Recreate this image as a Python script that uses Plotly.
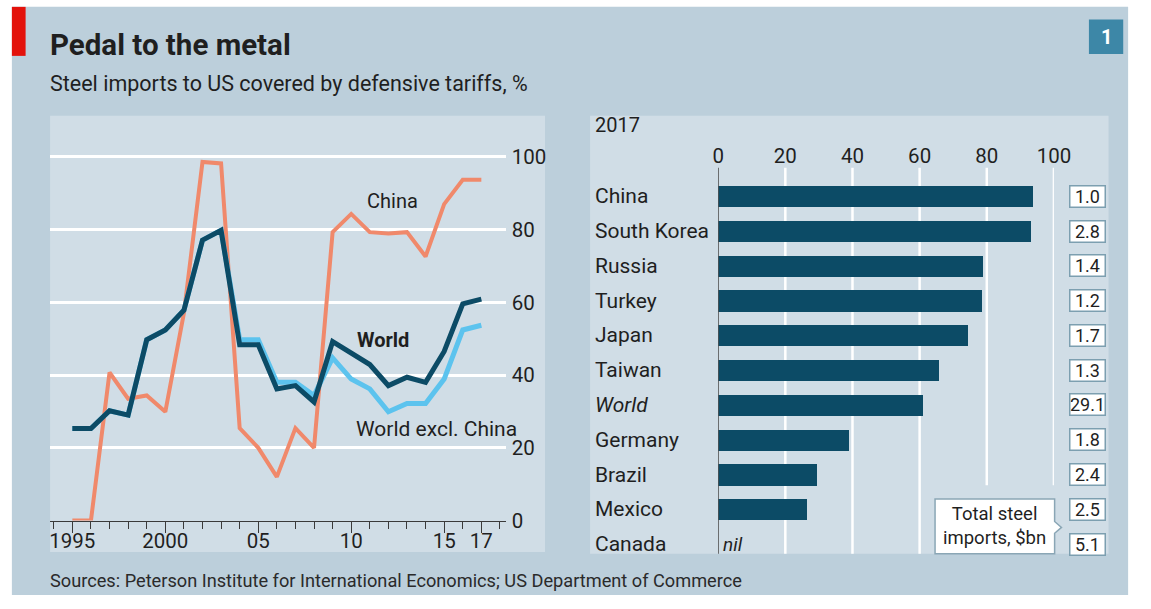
import plotly.graph_objects as go

W, H = 1151, 609
def px(x):
    return x / W
def py(y):
    return 1 - y / H

# ---------------- data ----------------
years = list(range(1995, 2018))
china = [0, 0, 40.7, 33.5, 34.4, 29.9, 57, 98.6, 98.2, 25.4, 20, 12, 25.4, 20,
         79.3, 84.3, 79.3, 78.9, 79.3, 72.6, 87, 93.7, 93.7]
world = [25.3, 25.3, 30.2, 29, 49.7, 52.4, 57.8, 77.1, 79.8, 48.3, 48.3, 36.2, 37.1,
         32.6, 49.2, 46.1, 42.9, 37.1, 39.4, 38, 46.5, 59.6, 60.9]
world_ex_china = [25.3, 25.3, 30.2, 29, 49.7, 52.4, 57.8, 77.1, 79.8, 49.7, 49.7, 38, 38,
                  34.4, 44.7, 38.9, 36.2, 29.9, 32.2, 32.2, 38.9, 52.4, 53.7]
year_ticks = [1995, 2000, 2005, 2010, 2015, 2017]
year_labels = ["1995", "2000", "05", "10", "15", "17"]

countries = ["China", "South Korea", "Russia", "Turkey", "Japan", "Taiwan", "World",
             "Germany", "Brazil", "Mexico", "Canada"]
share_2017 = [93.8, 93.2, 79.0, 78.5, 74.4, 65.8, 61.0, 38.9, 29.4, 26.4, None]
imports_bn = ["1.0", "2.8", "1.4", "1.2", "1.7", "1.3", "29.1", "1.8", "2.4", "2.5", "5.1"]
bar_ticks = [0, 20, 40, 60, 80, 100]

# ---------------- style ----------------
FONT = "Roboto"
TXT = "#1f1f1f"
OUTER = "#bccfdb"
PANEL = "#d0dde6"
ORANGE = "#f0896b"
NAVY = "#0c4b66"
LIGHTBLUE = "#5cc3ee"

fig = go.Figure()

fig.add_trace(go.Scatter(x=years, y=china, mode="lines",
                         line=dict(color=ORANGE, width=4), xaxis="x", yaxis="y",
                         hoverinfo="skip"))
fig.add_trace(go.Scatter(x=years, y=world_ex_china, mode="lines",
                         line=dict(color=LIGHTBLUE, width=5), xaxis="x", yaxis="y",
                         hoverinfo="skip"))
fig.add_trace(go.Scatter(x=years, y=world, mode="lines",
                         line=dict(color=NAVY, width=5), xaxis="x", yaxis="y",
                         hoverinfo="skip"))

fig.add_trace(go.Bar(y=countries, x=share_2017, orientation="h", width=0.61,
                     marker=dict(color=NAVY, line=dict(width=0)),
                     xaxis="x2", yaxis="y2", hoverinfo="skip"))

shapes = []
shapes.append(dict(type="rect", xref="paper", yref="paper", x0=px(6), x1=px(1145),
                   y0=py(607), y1=py(7), fillcolor=OUTER, line=dict(width=0), layer="below"))
shapes.append(dict(type="rect", xref="paper", yref="paper", x0=px(45), x1=px(550),
                   y0=py(563), y1=py(118), fillcolor=PANEL, line=dict(width=0), layer="below"))
shapes.append(dict(type="rect", xref="paper", yref="paper", x0=px(596), x1=px(1125),
                   y0=py(565), y1=py(118), fillcolor=PANEL, line=dict(width=0), layer="below"))
shapes.append(dict(type="rect", xref="paper", yref="paper", x0=px(6), x1=px(20),
                   y0=py(57), y1=py(7), fillcolor="#e3120b", line=dict(width=0)))
shapes.append(dict(type="rect", xref="paper", yref="paper", x0=px(1105), x1=px(1140),
                   y0=py(55), y1=py(20), fillcolor="#3d87a7", line=dict(width=0)))
for t in bar_ticks[1:]:
    ybot = 565 if t <= 60 else 495
    shapes.append(dict(type="line", xref="x2", yref="paper", x0=t, x1=t,
                       y0=py(ybot), y1=py(171), line=dict(color="white", width=2.5),
                       layer="below"))
shapes.append(dict(type="line", xref="x2", yref="paper", x0=0, x1=0,
                   y0=py(565), y1=py(171), line=dict(color="#4a4a4a", width=1.5)))
bx0, bx1, by0, by1 = 948, 1070, 509, 565
path = (f"M {px(bx0)} {py(by0)} L {px(bx1)} {py(by0)} L {px(bx1)} {py(532)} "
        f"L {px(1077)} {py(538)} L {px(bx1)} {py(544)} L {px(bx1)} {py(by1)} "
        f"L {px(bx0)} {py(by1)} Z")
shapes.append(dict(type="path", xref="paper", yref="paper", path=path,
                   fillcolor="white", line=dict(color="#8aa6b5", width=1.5)))

ann = []
ann.append(dict(text="<b>Pedal to the metal</b>", x=px(43), y=py(46), xref="paper",
                yref="paper", xanchor="left", yanchor="middle", showarrow=False,
                font=dict(size=29.5, color=TXT, family=FONT)))
ann.append(dict(text="Steel imports to US covered by defensive tariffs, %", x=px(43),
                y=py(85), xref="paper", yref="paper", xanchor="left", yanchor="middle",
                showarrow=False, font=dict(size=21.5, color=TXT, family=FONT)))
ann.append(dict(text="Sources: Peterson Institute for International Economics; US Department of Commerce",
                x=px(43), y=py(592), xref="paper", yref="paper", xanchor="left",
                yanchor="middle", showarrow=False, font=dict(size=18.2, color="#2a2a2a", family=FONT)))
ann.append(dict(text="<b>1</b>", x=px(1122.5), y=py(37.5), xref="paper", yref="paper",
                xanchor="center", yanchor="middle", showarrow=False,
                font=dict(size=20, color="white", family=FONT)))
ann.append(dict(text="China", x=2012.2, y=87.9, xref="x", yref="y", showarrow=False,
                font=dict(size=20, color=TXT, family=FONT)))
ann.append(dict(text="<b>World</b>", x=2011.7, y=49.6, xref="x", yref="y", showarrow=False,
                font=dict(size=20, color=TXT, family=FONT)))
ann.append(dict(text="World excl. China", x=2014.6, y=25.1, xref="x", yref="y",
                showarrow=False, font=dict(size=21, color=TXT, family=FONT)))
ann.append(dict(text="2017", x=px(599), y=py(128), xref="paper", yref="paper",
                xanchor="left", yanchor="middle", showarrow=False,
                font=dict(size=20, color=TXT, family=FONT)))
for c, v in zip(countries, imports_bn):
    label = "<i>World</i>" if c == "World" else c
    ann.append(dict(text=label, x=px(599), y=c, xref="paper", yref="y2",
                    xanchor="left", yanchor="middle", showarrow=False,
                    font=dict(size=21, color=TXT, family=FONT)))
    ann.append(dict(text=v, x=px(1103.5), y=c, xref="paper", yref="y2",
                    xanchor="center", yanchor="middle", showarrow=False,
                    bgcolor="white", bordercolor="#7c9fb0", borderwidth=1.5,
                    borderpad=0, width=34, height=20,
                    font=dict(size=18, color=TXT, family=FONT)))
for c, s in zip(countries, share_2017):
    if s is None:
        ann.append(dict(text="<i>nil</i>", x=0, y=c, xref="x2", yref="y2",
                        xanchor="left", yanchor="middle", xshift=3, showarrow=False,
                        font=dict(size=19, color=TXT, family=FONT)))
ann.append(dict(text="Total steel<br>imports, $bn", x=px(1009), y=py(537), xref="paper",
                yref="paper", xanchor="center", yanchor="middle", showarrow=False,
                align="center", font=dict(size=18.5, color=TXT, family=FONT)))

fig.update_layout(
    width=W, height=H,
    margin=dict(l=0, r=0, t=0, b=0),
    paper_bgcolor="white",
    plot_bgcolor="rgba(0,0,0,0)",
    showlegend=False,
    font=dict(family=FONT, color=TXT),
    shapes=shapes,
    annotations=ann,
    bargap=0,
    xaxis=dict(domain=[px(45), px(510)], range=[1993.803, 2018.316],
               tickvals=year_ticks, ticktext=year_labels, showgrid=False,
               zeroline=False, showline=True, linecolor="#3a3a3a", linewidth=1.3,
               ticks="outside", ticklen=11, tickwidth=1.3, tickcolor="#3a3a3a",
               ticklabelstandoff=-9,
               minor=dict(dtick=1, tick0=1995, ticks="outside", ticklen=7,
                          tickwidth=1.3, tickcolor="#3a3a3a", showgrid=False),
               tickfont=dict(size=20.5, color=TXT, family=FONT), fixedrange=True),
    yaxis=dict(domain=[py(531), py(140)], range=[0, 105.39], side="right",
               tickvals=[0, 20, 40, 60, 80, 100], showgrid=True, gridcolor="white",
               gridwidth=2.5, zeroline=False, ticks="", anchor="x",
               ticklabelstandoff=5,
               tickfont=dict(size=20.5, color=TXT, family=FONT), fixedrange=True),
    xaxis2=dict(domain=[px(726.7), px(1069.3)], range=[0, 100], side="top",
                tickvals=bar_ticks, showgrid=False, zeroline=False, showline=False,
                ticks="", anchor="y2",
                tickfont=dict(size=20.5, color=TXT, family=FONT), fixedrange=True),
    yaxis2=dict(domain=[py(565), py(171)], type="category", categoryorder="array",
                categoryarray=countries, range=[10.28, -0.823], showticklabels=False,
                showgrid=False, zeroline=False, ticks="", anchor="x2", fixedrange=True),
)

fig.write_html("out.html",
               post_script="document.body.style.margin='0';document.body.style.overflow='hidden';")
